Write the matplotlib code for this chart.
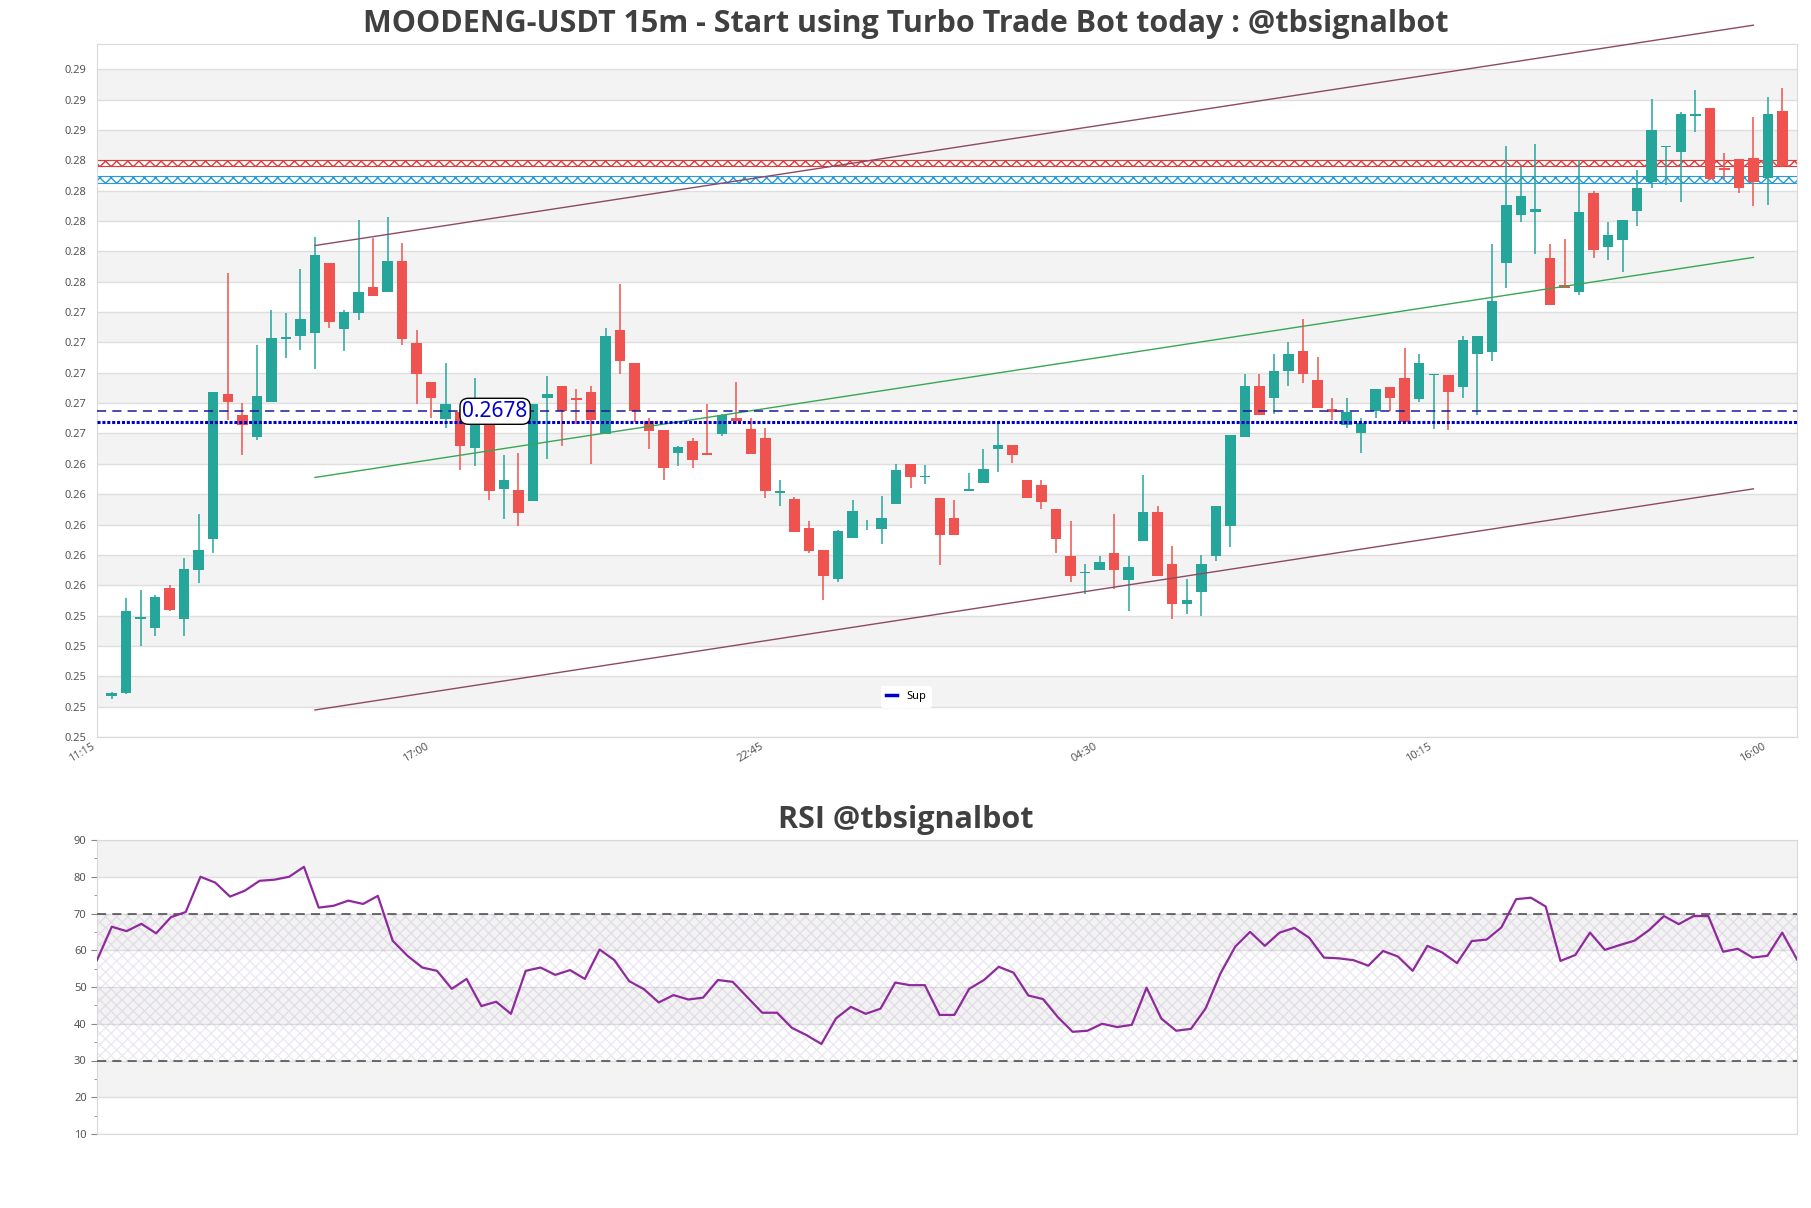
import matplotlib
matplotlib.use('Agg')
import matplotlib.pyplot as plt
import numpy as np

plt.rcParams['font.family'] = ['Noto Sans', 'DejaVu Sans']

# ---------------- data ----------------
x_tick_labels = ['11:15', '17:00', '22:45', '04:30', '10:15', '16:00']

opens = [0.24902, 0.24921, 0.25410, 0.25350, 0.25614, 0.25410, 0.25737, 0.25938, 0.26892, 0.26757,
         0.26610, 0.26841, 0.27254, 0.27273, 0.27294, 0.27759, 0.27321, 0.27426, 0.27601, 0.27566,
         0.27772, 0.27233, 0.26970, 0.26728, 0.26774, 0.26537, 0.26733, 0.26269, 0.26261, 0.26191,
         0.26870, 0.26948, 0.26870, 0.26905, 0.26631, 0.27313, 0.27096, 0.26715, 0.26655, 0.26505,
         0.26583, 0.26502, 0.26631, 0.26733, 0.26661, 0.26602, 0.26239, 0.26199, 0.26008, 0.25866,
         0.25673, 0.25947, 0.26022, 0.26006, 0.26169, 0.26430, 0.26347, 0.26212, 0.26075, 0.26255,
         0.26309, 0.26529, 0.26556, 0.26330, 0.26293, 0.26135, 0.25826, 0.25716, 0.25732, 0.25844,
         0.25670, 0.25928, 0.26116, 0.25772, 0.25512, 0.25592, 0.25828, 0.26022, 0.26610, 0.26948,
         0.26868, 0.27045, 0.27174, 0.26988, 0.26792, 0.26690, 0.26639, 0.26779, 0.26940, 0.27002,
         0.26859, 0.27018, 0.27021, 0.26940, 0.27160, 0.27171, 0.27759, 0.28076, 0.28092, 0.27791,
         0.27611, 0.27563, 0.28215, 0.27861, 0.27907, 0.28097, 0.28288, 0.28519, 0.28489, 0.28728,
         0.28779, 0.28385, 0.28444, 0.28449, 0.28315, 0.28760]

closes = [0.24921, 0.25463, 0.25423, 0.25554, 0.25469, 0.25740, 0.25866, 0.26905, 0.26838, 0.26690,
          0.26884, 0.27260, 0.27270, 0.27391, 0.27813, 0.27367, 0.27431, 0.27568, 0.27539, 0.27772,
          0.27254, 0.27026, 0.26868, 0.26825, 0.26551, 0.26720, 0.26255, 0.26328, 0.26110, 0.26825,
          0.26892, 0.26779, 0.26857, 0.26725, 0.27278, 0.27112, 0.26779, 0.26650, 0.26408, 0.26543,
          0.26459, 0.26489, 0.26757, 0.26717, 0.26500, 0.26253, 0.26253, 0.25987, 0.25861, 0.25697,
          0.25990, 0.26121, 0.26027, 0.26075, 0.26392, 0.26347, 0.26352, 0.25965, 0.25965, 0.26271,
          0.26403, 0.26556, 0.26489, 0.26212, 0.26180, 0.25938, 0.25697, 0.25724, 0.25785, 0.25732,
          0.25753, 0.26116, 0.25697, 0.25512, 0.25536, 0.25772, 0.26153, 0.26624, 0.26948, 0.26757,
          0.27047, 0.27160, 0.27026, 0.26800, 0.26776, 0.26774, 0.26701, 0.26929, 0.26868, 0.26712,
          0.27096, 0.27029, 0.26908, 0.27251, 0.27273, 0.27509, 0.28140, 0.28199, 0.28111, 0.27480,
          0.27592, 0.28095, 0.27842, 0.27942, 0.28041, 0.28250, 0.28632, 0.28530, 0.28739, 0.28739,
          0.28309, 0.28368, 0.28248, 0.28288, 0.28739, 0.28398]

highs = [0.24932, 0.25549, 0.25603, 0.25571, 0.25638, 0.25812, 0.26102, 0.26905, 0.27694, 0.26833,
         0.27214, 0.27450, 0.27429, 0.27719, 0.27928, 0.27759, 0.27450, 0.28041, 0.27925, 0.28062,
         0.27891, 0.27313, 0.26970, 0.27096, 0.26792, 0.27002, 0.26739, 0.26489, 0.26502, 0.26825,
         0.27010, 0.26948, 0.26927, 0.26945, 0.27329, 0.27617, 0.27096, 0.26739, 0.26655, 0.26551,
         0.26602, 0.26827, 0.26763, 0.26972, 0.26736, 0.26672, 0.26328, 0.26215, 0.26054, 0.25866,
         0.26000, 0.26194, 0.26065, 0.26220, 0.26430, 0.26430, 0.26425, 0.26212, 0.26194, 0.26371,
         0.26529, 0.26698, 0.26556, 0.26330, 0.26330, 0.26135, 0.26054, 0.25772, 0.25826, 0.26102,
         0.25826, 0.26363, 0.26153, 0.25890, 0.25673, 0.25831, 0.26153, 0.26624, 0.27029, 0.27029,
         0.27155, 0.27235, 0.27391, 0.27141, 0.26865, 0.26870, 0.26739, 0.26929, 0.26940, 0.27200,
         0.27160, 0.27029, 0.27021, 0.27278, 0.27273, 0.27885, 0.28530, 0.28390, 0.28543, 0.27880,
         0.27912, 0.28436, 0.28234, 0.28030, 0.28041, 0.28368, 0.28838, 0.28530, 0.28752, 0.28895,
         0.28779, 0.28484, 0.28444, 0.28720, 0.28854, 0.28911]

lows = [0.24883, 0.24916, 0.25235, 0.25302, 0.25463, 0.25302, 0.25651, 0.25844, 0.26725, 0.26489,
        0.26591, 0.26841, 0.27133, 0.27187, 0.27058, 0.27327, 0.27176, 0.27380, 0.27539, 0.27566,
        0.27217, 0.26827, 0.26739, 0.26672, 0.26390, 0.26422, 0.26194, 0.26073, 0.26022, 0.26191,
        0.26465, 0.26551, 0.26698, 0.26430, 0.26631, 0.27026, 0.26712, 0.26529, 0.26328, 0.26422,
        0.26408, 0.26489, 0.26618, 0.26693, 0.26500, 0.26210, 0.26153, 0.25987, 0.25847, 0.25538,
        0.25657, 0.25947, 0.26000, 0.25906, 0.26169, 0.26274, 0.26301, 0.25769, 0.25965, 0.26255,
        0.26309, 0.26381, 0.26441, 0.26210, 0.26135, 0.25847, 0.25657, 0.25579, 0.25732, 0.25611,
        0.25466, 0.25928, 0.25697, 0.25410, 0.25447, 0.25428, 0.25791, 0.25888, 0.26610, 0.26757,
        0.26760, 0.26948, 0.26967, 0.26800, 0.26725, 0.26672, 0.26505, 0.26736, 0.26779, 0.26712,
        0.26841, 0.26661, 0.26658, 0.26867, 0.26757, 0.27112, 0.27592, 0.28025, 0.27815, 0.27480,
        0.27592, 0.27547, 0.27789, 0.27778, 0.27697, 0.28001, 0.28250, 0.28274, 0.28156, 0.28618,
        0.28301, 0.28309, 0.28215, 0.28130, 0.28140, 0.28390]

rsi = [57.3, 66.4, 65.2, 67.2, 64.6, 69.0, 70.4, 80.0, 78.4, 74.6,
       76.2, 78.9, 79.2, 80.0, 82.7, 71.6, 72.1, 73.5, 72.6, 74.8,
       62.6, 58.5, 55.3, 54.4, 49.5, 52.2, 44.8, 46.0, 42.7, 54.4,
       55.3, 53.3, 54.6, 52.2, 60.2, 57.3, 51.6, 49.4, 45.8, 47.8,
       46.6, 47.1, 51.9, 51.4, 47.2, 43.0, 43.0, 38.9, 36.9, 34.5,
       41.5, 44.6, 42.7, 44.1, 51.2, 50.5, 50.5, 42.4, 42.4, 49.5,
       51.9, 55.5, 53.9, 47.7, 46.7, 41.8, 37.8, 38.1, 40.0, 39.1,
       39.7, 49.8, 41.4, 38.1, 38.6, 44.2, 53.7, 61.0, 65.0, 61.2,
       64.8, 66.1, 63.4, 58.0, 57.8, 57.3, 55.8, 59.8, 58.3, 54.4,
       61.2, 59.4, 56.5, 62.5, 62.9, 66.2, 73.9, 74.3, 71.9, 57.1,
       58.7, 64.8, 60.1, 61.4, 62.6, 65.5, 69.3, 67.1, 69.3, 69.3,
       59.6, 60.4, 58.0, 58.5, 64.8, 57.5]

sup_label_level = 0.2678
sup_level = 0.26712
res_zone_red = [0.28393, 0.28435]
res_zone_blue = [0.28285, 0.28328]
channel_idx = [14, 113]
channel_upper = [0.27872, 0.29324]
channel_mid = [0.26344, 0.27794]
channel_lower = [0.24812, 0.26269]
rsi_levels = [30, 70]

# ---------------- style ----------------
GREEN = '#26a69a'
RED = '#ef5350'
BAND = '#f3f3f3'
GRID = '#dedede'
TXT = '#404040'
TICK = '#555555'
TITLE_FONT = ['Open Sans', 'Lato', 'DejaVu Sans']

W, H = 1811, 1208
fig = plt.figure(figsize=(W / 100, H / 100), dpi=100)
ax = fig.add_axes([97 / W, 1 - 737 / H, 1700 / W, 693 / H])
ax2 = fig.add_axes([97 / W, 1 - 1134 / H, 1700 / W, 294 / H])

# ---- main price chart ----
n = len(opens)
xs = np.arange(n)
ymin, ymax, ystep = 0.24634, 0.2920, 0.002
yticks = ymin + ystep * np.arange(23)
ax.set_ylim(ymin, ymax)
ax.set_xlim(-1, n)
for k in range(len(yticks)):
    lo = yticks[k]
    hi = yticks[k + 1] if k + 1 < len(yticks) else ymax
    if k % 2 == 1:
        ax.axhspan(lo, hi, color=BAND, zorder=0, lw=0)
ax.set_yticks(yticks)
ax.set_yticklabels([f'{v:.2f}' for v in yticks])
ax.grid(axis='y', color=GRID, lw=1.0, zorder=0.5)
ax.set_axisbelow(True)

o = np.array(opens); c = np.array(closes); h = np.array(highs); l = np.array(lows)
up = c >= o
cols = np.where(up, GREEN, RED)
ax.vlines(xs, l, h, colors=cols, lw=1.1, zorder=3)
body_lo = np.minimum(o, c)
body_h = np.maximum(np.abs(c - o), 0.00005)
ax.bar(xs, body_h, bottom=body_lo, width=0.72, color=cols, lw=0, zorder=4)

# resistance zones (hatched)
ax.axhspan(res_zone_red[0], res_zone_red[1], facecolor='none', edgecolor='#e03a3a',
           hatch='xxx', lw=0.8, zorder=2)
ax.axhspan(res_zone_blue[0], res_zone_blue[1], facecolor='none', edgecolor='#2a9ad8',
           hatch='xxx', lw=0.8, zorder=2)

# channel
ax.plot(channel_idx, channel_upper, color='#8c4a66', lw=1.0, zorder=5, clip_on=False)
ax.plot(channel_idx, channel_lower, color='#8c4a66', lw=1.0, zorder=5, clip_on=False)
ax.plot(channel_idx, channel_mid, color='#3aa655', lw=1.0, zorder=5)

# support lines
ax.axhline(sup_label_level, color='#1a1a9a', lw=1.1, ls=(0, (6, 4)), zorder=5)
ax.axhline(sup_level, color='#0000cc', lw=2.2, ls=(0, (1, 0.6)), zorder=5, label='Sup')
ax.text(26.4, sup_label_level, f'{sup_label_level:.4f}', color='#0000cc', fontsize=15,
        ha='center', va='center', zorder=6,
        bbox=dict(boxstyle='round,pad=0.12,rounding_size=0.4', fc='white', ec='black', lw=1.0))

leg = ax.legend(loc='center', bbox_to_anchor=(0.476, 0.058), fontsize=8, frameon=True,
                handlelength=1.0, borderpad=0.5)
leg.get_frame().set_edgecolor('none')
leg.get_frame().set_facecolor('white')
leg.get_frame().set_alpha(1)
for line in leg.get_lines():
    line.set_linestyle('-')
    line.set_linewidth(2.5)

xt = [-1, 22, 45, 68, 91, 114]
ax.set_xticks(xt)
ax.set_xticklabels(x_tick_labels, rotation=30, ha='right', fontsize=8, color=TICK)
ax.tick_params(axis='y', labelsize=8, labelcolor=TICK, length=0, pad=8)
ax.tick_params(axis='x', length=0, pad=3)
for s in ax.spines.values():
    s.set_color('#d9d9d9')

fig.text(0.5, 1 - 24 / H, 'MOODENG-USDT 15m - Start using Turbo Trade Bot today : @tbsignalbot',
         ha='center', va='center', fontsize=22, fontweight='bold', color=TXT, family=TITLE_FONT)

# ---- RSI ----
m = len(rsi)
ax2.set_xlim(0, m - 1)
ax2.set_ylim(10, 90)
for k, lo in enumerate(range(10, 90, 10)):
    if k % 2 == 1:
        ax2.axhspan(lo, lo + 10, color=BAND, zorder=0, lw=0)
ax2.axhspan(rsi_levels[0], rsi_levels[1], facecolor='none', edgecolor=(0.6, 0.5, 0.7, 0.18),
            hatch='xxx', lw=0, zorder=1)
ax2.set_yticks(range(10, 91, 10))
ax2.set_yticks(range(15, 90, 10), minor=True)
ax2.grid(axis='y', which='major', color=GRID, lw=1.0, zorder=0.5)
ax2.set_axisbelow(True)
for lv in rsi_levels:
    ax2.axhline(lv, color='#444444', lw=1.1, ls=(0, (6, 4)), zorder=3)
ax2.plot(np.arange(m), rsi, color='#8e2a9c', lw=1.6, zorder=4)
ax2.set_xticks([])
ax2.tick_params(axis='y', which='both', labelsize=8, labelcolor=TICK, color='#888888')
ax2.tick_params(axis='y', which='major', length=4)
ax2.tick_params(axis='y', which='minor', length=2)
for s in ax2.spines.values():
    s.set_color('#d9d9d9')

fig.text(0.5, 1 - 820 / H, 'RSI @tbsignalbot', ha='center', va='center', fontsize=22,
         fontweight='bold', color=TXT, family=TITLE_FONT)

fig.savefig('out.png', dpi=100, facecolor='white')
